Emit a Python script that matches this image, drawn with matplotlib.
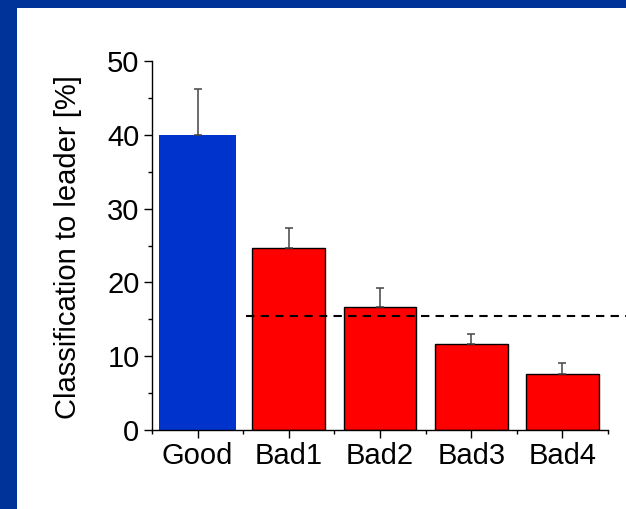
import matplotlib
matplotlib.use("Agg")
import matplotlib.pyplot as plt
from matplotlib.patches import Rectangle
from matplotlib.ticker import MultipleLocator, FixedLocator

plt.rcParams['font.family'] = ['Liberation Sans', 'DejaVu Sans']

categories = ["Good", "Bad1", "Bad2", "Bad3", "Bad4"]
values = [40.0, 24.6, 16.6, 11.6, 7.6]
errors = [6.2, 2.8, 2.7, 1.4, 1.5]
chance_level = 15.5
bar_colors = ["#0033cc", "#ff0000", "#ff0000", "#ff0000", "#ff0000"]

W, H = 626, 509
fig = plt.figure(figsize=(W / 100, H / 100), dpi=100)

# slide-style frame: blue band on the left and top, white panel
fig.patches.append(Rectangle((0, 0), 1, 1, transform=fig.transFigure,
                             facecolor="#003399", edgecolor="none", zorder=-10))
fig.patches.append(Rectangle((17 / W, 0), 1, (H - 8) / H, transform=fig.transFigure,
                             facecolor="white", edgecolor="none", zorder=-9))

ax = fig.add_axes([152 / W, (H - 430) / H, (608 - 152) / W, (430 - 61) / H])
ax.set_facecolor("none")

x = list(range(len(categories)))
for xi, v, e, c in zip(x, values, errors, bar_colors):
    if c == "#0033cc":
        ax.bar(xi, v, width=0.84, color=c, edgecolor="none", zorder=2)
    else:
        ax.bar(xi, v, width=0.8, color=c, edgecolor="black", linewidth=1.0, zorder=2)
    ax.errorbar(xi, v, yerr=[[0], [e]], fmt="none", ecolor="#444444",
                elinewidth=1.1, capsize=3, capthick=1.1, zorder=3)

ax.hlines(chance_level, 0.53, 4.75, colors="black", linestyles=(0, (4, 3)),
          linewidth=1.5, clip_on=False, zorder=4)

ax.set_xlim(-0.5, 4.5)
ax.set_ylim(0, 50)
ax.set_xticks(x)
ax.set_xticklabels(categories)
ax.xaxis.set_minor_locator(FixedLocator([-0.5, 0.5, 1.5, 2.5, 3.5, 4.5]))
ax.yaxis.set_major_locator(MultipleLocator(10))
ax.yaxis.set_minor_locator(MultipleLocator(5))

for side in ("top", "right"):
    ax.spines[side].set_visible(False)
for side in ("left", "bottom"):
    ax.spines[side].set_linewidth(1.0)

ax.tick_params(axis="both", which="major", direction="out", length=6, width=1.0,
               labelsize=21, pad=3)
ax.tick_params(axis="both", which="minor", direction="out", length=3, width=1.0)

ax.set_ylabel("Classification to leader [%]", fontsize=21)
ax.yaxis.set_label_coords((82 - 152) / (608 - 152), 0.495)

fig.savefig("out.png", dpi=100)
